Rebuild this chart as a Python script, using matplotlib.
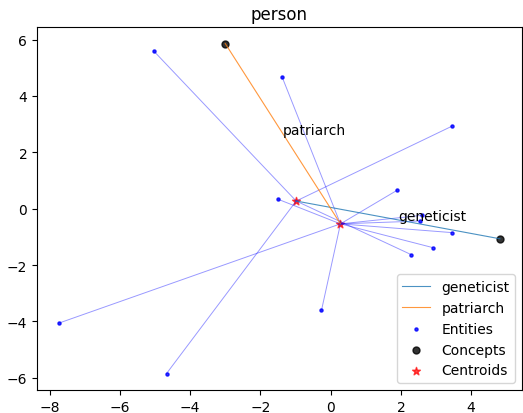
import matplotlib
matplotlib.use('Agg')
import matplotlib.pyplot as plt

# 개념 이름과 좌표
concepts = ['geneticist', 'patriarch']
concept_x = [4.82, -3.00]
concept_y = [-1.07, 5.86]

# 각 개념 클러스터의 중심점
centroid_x = [-0.98, 0.28]
centroid_y = [0.27, -0.54]

# 클러스터별 엔티티 좌표
gen_entity_x = [-5.04, 3.46, -4.67, 2.29]
gen_entity_y = [5.60, 2.93, -5.85, -1.63]
pat_entity_x = [-1.38, -1.49, -7.73, -0.26, 1.89, 2.54, 2.59, 3.45, 2.90]
pat_entity_y = [4.67, 0.33, -4.06, -3.61, 0.65, -0.44, -0.24, -0.85, -1.38]

entity_x = [gen_entity_x, pat_entity_x]
entity_y = [gen_entity_y, pat_entity_y]

fig = plt.figure(figsize=(5.23, 4.14), dpi=100)
ax = fig.add_axes([37 / 523, 23 / 414, 485 / 523, 363 / 414])

# 엔티티 -> 중심점 선
for i in range(len(concepts)):
    for ex, ey in zip(entity_x[i], entity_y[i]):
        ax.plot([ex, centroid_x[i]], [ey, centroid_y[i]], 'b-', alpha=0.4, linewidth=0.7)

# 중심점 -> 개념 선 + 라벨
for i, name in enumerate(concepts):
    ax.plot([centroid_x[i], concept_x[i]], [centroid_y[i], concept_y[i]],
            color=f'C{i}', linewidth=0.8, alpha=0.8, label=name)
    mx = (centroid_x[i] + concept_x[i]) / 2
    my = (centroid_y[i] + concept_y[i]) / 2
    ax.text(mx, my, name, fontsize=10)

all_ex = gen_entity_x + pat_entity_x
all_ey = gen_entity_y + pat_entity_y
ax.scatter(all_ex, all_ey, c='blue', s=5, alpha=0.8, label='Entities')
ax.scatter(concept_x, concept_y, c='black', s=25, alpha=0.8, label='Concepts')
ax.scatter(centroid_x, centroid_y, c='red', marker='*', s=35, alpha=0.7, label='Centroids')

ax.set_title('person', fontsize=12)
ax.legend(loc='lower right', fontsize=10)

fig.savefig('out.png', dpi=100)
